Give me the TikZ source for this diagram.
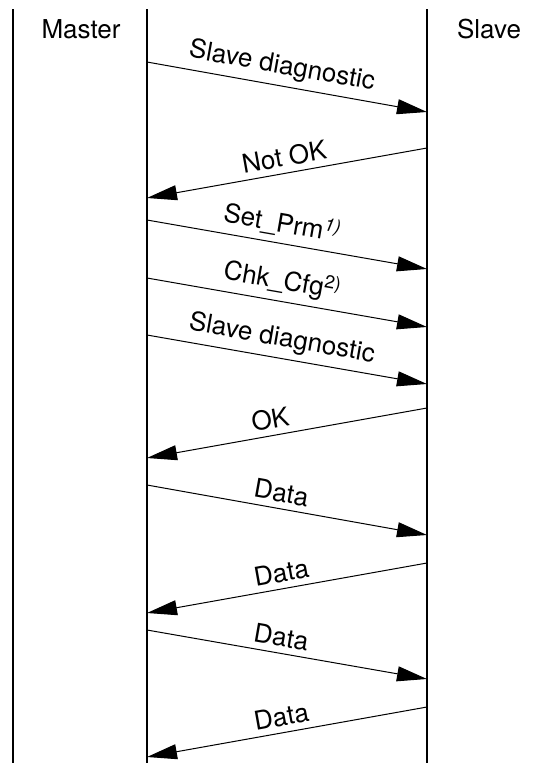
\documentclass[tikz,border=0pt]{standalone}
\usepackage{fontspec}
\setmainfont{TeX Gyre Heros}
\usetikzlibrary{arrows.meta}

\begin{document}
\begin{tikzpicture}[x=1pt,y=-1pt,>={Triangle[length=30pt,width=15pt]},
life/.style={line width=2pt},
msg/.style={->,line width=1pt},
head/.style={font=\fontsize{26}{30}\selectfont},
lab/.style={font=\fontsize{26}{30}\selectfont,sloped,above,inner sep=6pt}]
\useasboundingbox (0,0) rectangle (549,763);
% lifelines
\coordinate (edget) at (13,9);  \coordinate (edgeb) at (13,763);
\coordinate (mt) at (147,9);    \coordinate (mb) at (147,763);
\coordinate (st) at (427,9);    \coordinate (sb) at (427,763);
\draw[life] (edget)--(edgeb);
\draw[life] (mt)--(mb);
\draw[life] (st)--(sb);
\node[head] (master) at (81,29) {Master};
\node[head] (slave) at (489,29) {Slave};
% message ends
\coordinate (m1) at (147,62);  \coordinate (s1) at (427,112);
\coordinate (s2) at (427,148); \coordinate (m2) at (147,198);
\coordinate (m3) at (147,220); \coordinate (s3) at (427,269);
\coordinate (m4) at (147,278); \coordinate (s4) at (427,327);
\coordinate (m5) at (147,335); \coordinate (s5) at (427,384);
\coordinate (s6) at (427,408); \coordinate (m6) at (147,458);
\coordinate (m7) at (147,485); \coordinate (s7) at (427,535);
\coordinate (s8) at (427,563); \coordinate (m8) at (147,613);
\coordinate (m9) at (147,630); \coordinate (s9) at (427,679);
\coordinate (s10) at (427,707); \coordinate (m10) at (147,757);
% messages
\draw[msg] (m1)--(s1) node[lab,pos=.47] {Slave diagnostic};
\draw[msg] (s2)--(m2) node[lab,pos=.5] {Not OK};
\draw[msg] (m3)--(s3) node[lab,pos=.47] {Set\_Prm\textsuperscript{\itshape 1)}};
\draw[msg] (m4)--(s4) node[lab,pos=.47] {Chk\_Cfg\textsuperscript{2)}};
\draw[msg] (m5)--(s5) node[lab,pos=.47] {Slave diagnostic};
\draw[msg] (s6)--(m6) node[lab,pos=.55] {OK};
\draw[msg] (m7)--(s7) node[lab,pos=.47] {Data};
\draw[msg] (s8)--(m8) node[lab,pos=.51] {Data};
\draw[msg] (m9)--(s9) node[lab,pos=.47] {Data};
\draw[msg] (s10)--(m10) node[lab,pos=.51] {Data};
\end{tikzpicture}
\end{document}
